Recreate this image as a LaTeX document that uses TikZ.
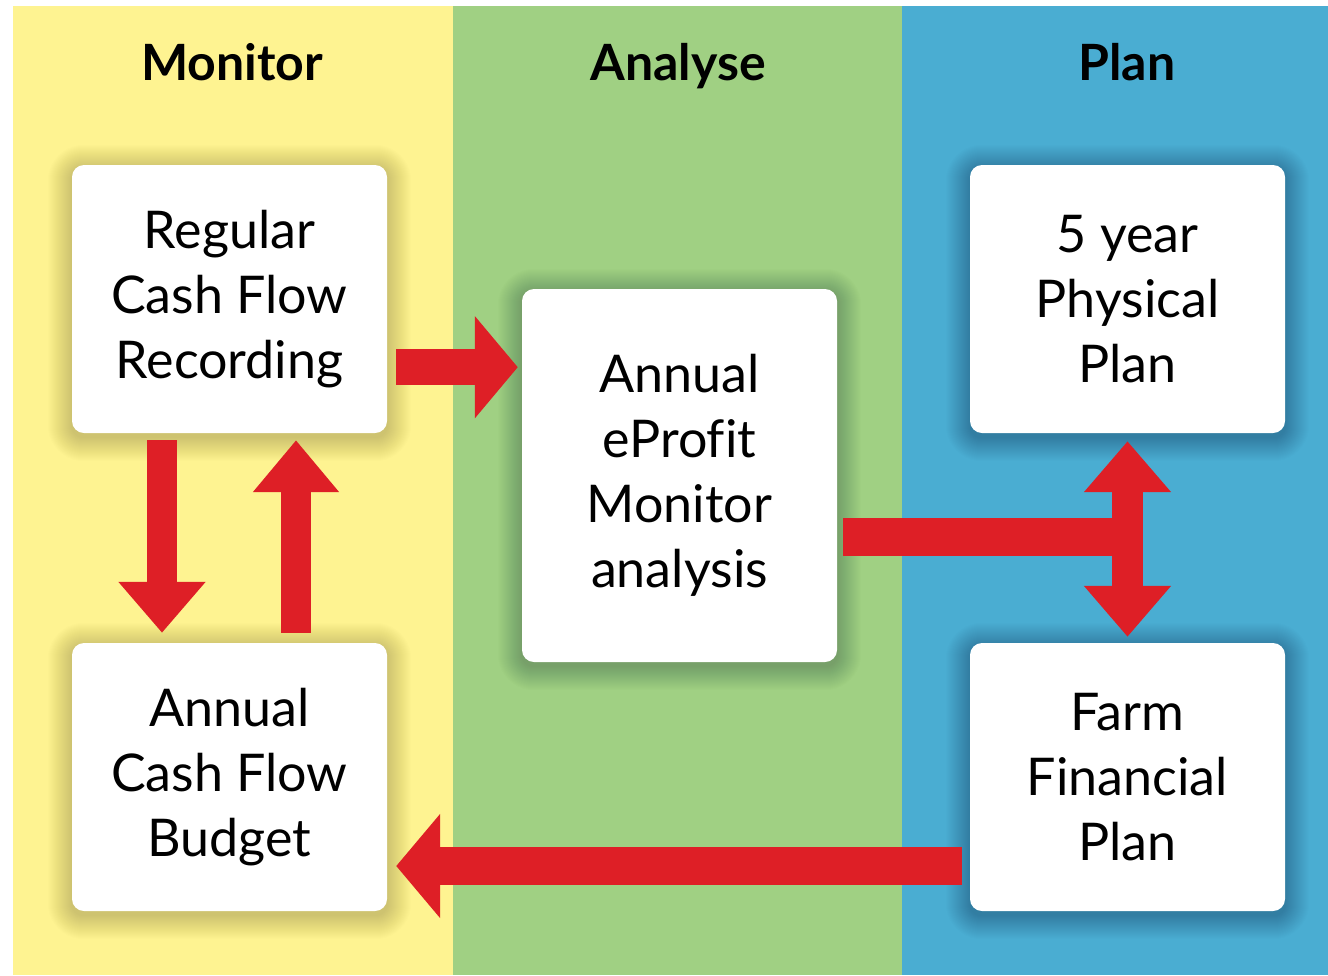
\documentclass[tikz,border=0pt]{standalone}
\usepackage{fontspec}
\setmainfont{Lato}[Ligatures=CommonOff]
\usetikzlibrary{arrows.meta,calc,backgrounds}
\definecolor{colyellow}{HTML}{FEF391}
\definecolor{colgreen}{HTML}{A0D083}
\definecolor{colblue}{HTML}{4AADD2}
\definecolor{colred}{HTML}{DE1F26}
\tikzset{
  card/.style={fill=white, rounded corners=12pt, minimum width=315pt,
    align=center, inner sep=0pt,
    font=\fontsize{52}{65}\selectfont},
  haze/.style={fill=black, opacity=0.009},
  heading/.style={font=\fontsize{50}{60}\selectfont\bfseries, anchor=base},
  flow/.style={draw=colred, line width=#1},
}
\begin{document}
\begin{tikzpicture}[x=1pt,y=-1pt]
  \useasboundingbox (0,0) rectangle (1328,975);

  % headings
  \node[heading] (hmon) at (232,80) {Monitor};
  \node[heading] (hana) at (678,80) {Analyse};
  \node[heading] (hpla) at (1127,80) {Plan};

  % cards
  \node[card, minimum height=268pt] (reg) at (229.5,299) {Regular\\Cash Flow\\Recording};
  \node[card, minimum height=268pt] (bud) at (229.5,777) {Annual\\Cash Flow\\Budget};
  \node[card, minimum height=373pt] (epm) at (679.5,475.5) {Annual\\eProfit\\Monitor\\analysis};
  \node[card, minimum height=268pt] (phy) at (1127.5,299) {5 year\\Physical\\Plan};
  \node[card, minimum height=268pt] (fin) at (1127.5,777) {Farm\\Financial\\Plan};

  \begin{scope}[on background layer]
    % column bands
    \fill[colyellow] (13,6) rectangle (453,975);
    \fill[colgreen] (453,6) rectangle (902,975);
    \fill[colblue] (902,6) rectangle (1328,975);
    % soft shadows under the cards
    \foreach \n in {reg,bud,epm,phy,fin}
      \foreach \k in {1,...,24}
        \fill[haze, rounded corners=12pt+\k pt]
          ($(\n.south west)+(-\k,\k+4)$) rectangle ($(\n.north east)+(\k,-\k+4)$);
  \end{scope}

  % connector end points
  \coordinate (r1) at ($(reg.south east)+(9,-66)$);
  \coordinate (r2) at ($(epm.west |- r1)+(-4,0)$);
  \coordinate (d1) at ($(reg.south)+(-67.5,7)$);
  \coordinate (d2) at ($(bud.north)+(-67.5,-10)$);
  \coordinate (u1) at ($(bud.north)+(66.5,-10)$);
  \coordinate (u2) at ($(reg.south)+(66.5,7)$);
  \coordinate (b1) at ($(fin.west)+(-8,89)$);
  \coordinate (b2) at ($(bud.east |- b1)+(9,0)$);
  \coordinate (t1) at ($(epm.east)+(6,61.5)$);
  \coordinate (t2) at ($(phy.south |- t1)+(15.5,0)$);
  \coordinate (v1) at ($(phy.south)+(0,8)$);
  \coordinate (v2) at ($(fin.north)+(0,-6)$);

  % arrows
  \draw[flow=36pt, -{Triangle[length=43pt,width=100pt]}, colred] (r1) -- (r2);
  \draw[flow=30pt, -{Triangle[length=51pt,width=84pt]}, colred] (d1) -- (d2);
  \draw[flow=30pt, -{Triangle[length=52pt,width=83pt]}, colred] (u1) -- (u2);
  \draw[flow=38pt, -{Triangle[length=44pt,width=102pt]}, colred] (b1) -- (b2);
  \draw[flow=38pt, colred] (t1) -- (t2);
  \draw[flow=31pt, {Triangle[length=51pt,width=84pt]}-{Triangle[length=51pt,width=84pt]}, colred] (v1) -- (v2);
\end{tikzpicture}
\end{document}
